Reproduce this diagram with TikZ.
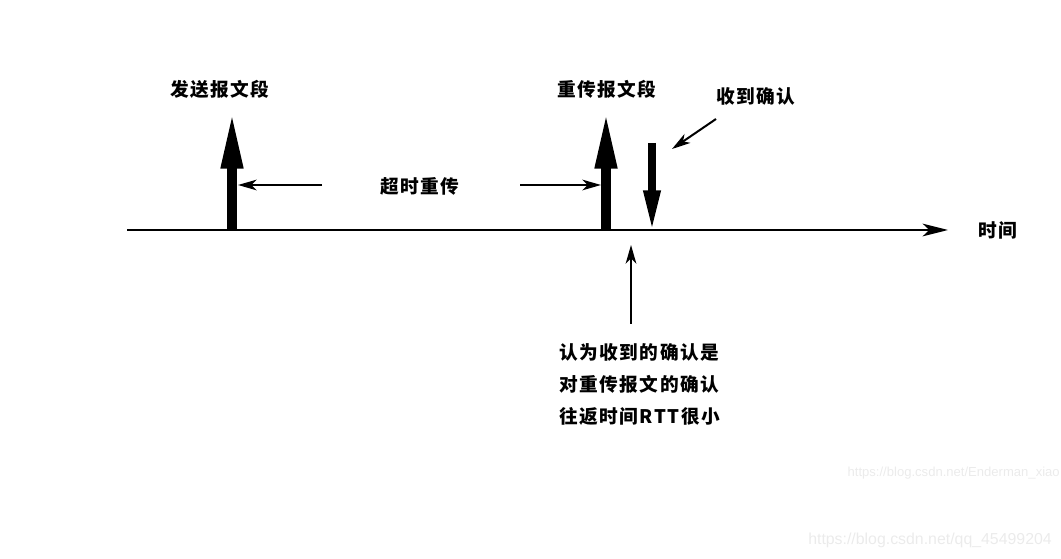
\documentclass[tikz,border=0pt]{standalone}
\usepackage{fontspec}
\setmainfont{Liberation Sans}
\newfontfamily\cjk{Noto Sans CJK SC}[LetterSpace=8]
\usetikzlibrary{arrows.meta}
\tikzset{
  lbl/.style={font=\cjk\bfseries\fontsize{14}{16}\selectfont, inner sep=0pt},
  thick up/.style={line width=7.5pt, -{Triangle[length=44pt,width=15pt]}},
  ack down/.style={line width=6pt, -{Triangle[length=32pt,width=11.5pt]}},
  axis/.style={line width=1.6pt, -{Stealth[length=19pt,width=9.5pt,inset=5pt]}},
  thin/.style={line width=1.5pt, -{Stealth[length=14pt,width=8pt,inset=4pt]}},
  wm/.style={font=\fontsize{#1}{#1}\selectfont, text=black!8, inner sep=0pt}
}
\begin{document}
\begin{tikzpicture}[x=0.75pt,y=-0.75pt]
\useasboundingbox (0,0) rectangle (1061,559);
% axis
\coordinate (a0) at (127,230);
\coordinate (a1) at (948,230);
\draw[axis] (a0) -- (a1);
\node[lbl] (time) at (998,230) {时间};
% send
\coordinate (s0) at (232,230);
\coordinate (s1) at (232,110);
\draw[thick up] (s0) -- (s1);
\node[lbl] (send) at (220,89) {发送报文段};
% retransmit
\coordinate (r0) at (606,230);
\coordinate (r1) at (606,110);
\draw[thick up] (r0) -- (r1);
\node[lbl] (resend) at (607,89) {重传报文段};
% ack
\coordinate (k0) at (652,143);
\coordinate (k1) at (652,233);
\draw[ack down] (k0) -- (k1);
\node[lbl] (ack) at (756,96) {收到确认};
\coordinate (p0) at (716,119);
\coordinate (p1) at (672,149);
\draw[thin] (p0) -- (p1);
% timeout
\node[lbl] (to) at (420,186) {超时重传};
\coordinate (t0) at (322,185);
\coordinate (t1) at (238,185);
\coordinate (t2) at (520,185);
\coordinate (t3) at (601,185);
\draw[thin] (t0) -- (t1);
\draw[thin] (t2) -- (t3);
% explanation
\coordinate (e0) at (631,324);
\coordinate (e1) at (631,245);
\draw[thin] (e0) -- (e1);
\node[lbl, anchor=west] (n1) at (559,352) {认为收到的确认是};
\node[lbl, anchor=west] (n2) at (559,384) {对重传报文的确认};
\node[lbl, anchor=west] (n3) at (559,416) {往返时间RTT很小};
% watermarks
\node[wm=9.8, anchor=east] (w1) at (1060,473) {https://blog.csdn.net/Enderman\_xiao};
\node[wm=11.9, anchor=west] (w2) at (808,540) {https://blog.csdn.net/qq\_45499204};
\end{tikzpicture}
\end{document}
